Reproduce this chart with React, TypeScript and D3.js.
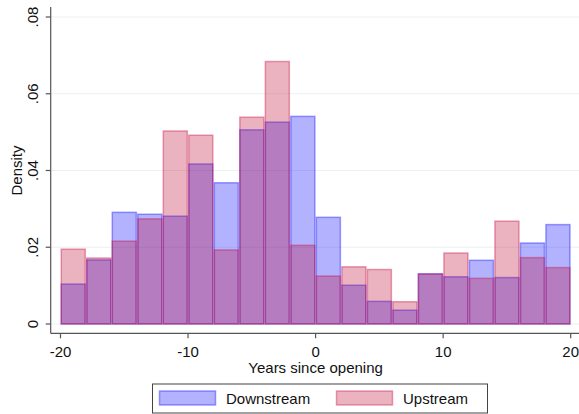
import React from "react";
import * as d3 from "d3";

const binStarts = [-20, -18, -16, -14, -12, -10, -8, -6, -4, -2, 0, 2, 4, 6, 8, 10, 12, 14, 16, 18];
const downstream = [0.0104, 0.0167, 0.0291, 0.0286, 0.0281, 0.0417, 0.0368, 0.0506, 0.0526, 0.0541, 0.0278, 0.0101, 0.0059, 0.0036, 0.0131, 0.0123, 0.0166, 0.0121, 0.0211, 0.0259];
const upstream = [0.0195, 0.0172, 0.0216, 0.0274, 0.0503, 0.0492, 0.0193, 0.0539, 0.0684, 0.0205, 0.0125, 0.0149, 0.0142, 0.0058, 0.0130, 0.0185, 0.0119, 0.0268, 0.0173, 0.0147];
const binWidth = 2;
const xTicks = [-20, -10, 0, 10, 20];
const yTicks = [0, 0.02, 0.04, 0.06, 0.08];
const yTickLabels = ["0", ".02", ".04", ".06", ".08"];

const BLUE_FILL = "rgba(0,0,255,0.3)";
const BLUE_EDGE = "rgba(40,40,255,0.45)";
const RED_FILL = "rgba(188,0,45,0.3)";
const RED_EDGE = "rgba(200,20,70,0.4)";
const FONT = "Liberation Sans, Arial, sans-serif";
const FS = 15;

export default function App() {
  const W = 579, H = 414;
  const x = d3.scaleLinear().domain([-20, 20]).range([60.5, 570.7]);
  const y = d3.scaleLinear().domain([0, 0.08]).range([324, 17]);
  const axisX = 50.7;
  const axisY = 333.3;

  const bars = (vals: number[], fill: string, edge: string) =>
    vals.map((v, i) => {
      const x0 = x(binStarts[i]);
      const x1 = x(binStarts[i] + binWidth);
      return (
        <rect key={i} x={x0 + 0.75} y={y(v)} width={x1 - x0 - 1.5} height={y(0) - y(v)}
          fill={fill} stroke={edge} strokeWidth={1.5} />
      );
    });

  return (
    <div style={{ position: "absolute", left: 0, top: 0 }}>
      <svg width={W} height={H} style={{ display: "block", background: "#fff" }}>
        {yTicks.slice(1).map((t) => (
          <line key={t} x1={axisX} x2={579} y1={y(t)} y2={y(t)} stroke="#eaf2f3" strokeWidth={1.2} />
        ))}
        <line x1={axisX} x2={579} y1={y(0)} y2={y(0)} stroke="#eaf2f3" strokeWidth={1.2} />
        {bars(downstream, BLUE_FILL, BLUE_EDGE)}
        {bars(upstream, RED_FILL, RED_EDGE)}
        <line x1={axisX} x2={axisX} y1={7} y2={axisY} stroke="#555" strokeWidth={1.2} />
        <line x1={axisX} x2={579} y1={axisY} y2={axisY} stroke="#555" strokeWidth={1.2} />
        {yTicks.map((t, i) => (
          <g key={t}>
            <line x1={axisX - 5} x2={axisX} y1={y(t)} y2={y(t)} stroke="#555" strokeWidth={1.2} />
            <text transform={`translate(38,${y(t)}) rotate(-90)`} textAnchor="middle" fontFamily={FONT} fontSize={FS} fill="#111">
              {yTickLabels[i]}
            </text>
          </g>
        ))}
        {xTicks.map((t) => (
          <g key={t}>
            <line x1={x(t)} x2={x(t)} y1={axisY} y2={axisY + 5} stroke="#555" strokeWidth={1.2} />
            <text x={x(t)} y={357} textAnchor="middle" fontFamily={FONT} fontSize={FS} fill="#111">{t}</text>
          </g>
        ))}
        <text x={x(0)} y={373} textAnchor="middle" fontFamily={FONT} fontSize={FS} fill="#111">Years since opening</text>
        <text transform={`translate(22,${y(0.04)}) rotate(-90)`} textAnchor="middle" fontFamily={FONT} fontSize={FS} fill="#111">Density</text>
        <rect x={152.5} y={384} width={335} height={29} fill="#fff" stroke="#444" strokeWidth={1} />
        <rect x={159.5} y={391} width={56} height={14} fill={BLUE_FILL} stroke={BLUE_EDGE} strokeWidth={1.5} />
        <text x={226} y={403.5} fontFamily={FONT} fontSize={FS} fill="#111">Downstream</text>
        <rect x={336.5} y={391} width={56} height={14} fill={RED_FILL} stroke={RED_EDGE} strokeWidth={1.5} />
        <text x={403} y={403.5} fontFamily={FONT} fontSize={FS} fill="#111">Upstream</text>
      </svg>
    </div>
  );
}
